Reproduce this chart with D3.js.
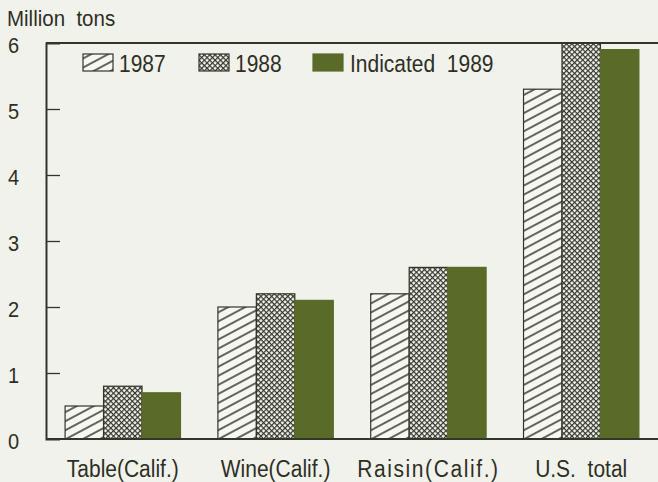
<!DOCTYPE html>
<html>
<head>
<meta charset="utf-8">
<script src="https://cdn.jsdelivr.net/npm/d3@7"></script>
<style>
  html, body { margin: 0; padding: 0; background: #f2f2ec; }
  svg { display: block; }
  text { font-family: "Liberation Sans", Arial, Helvetica, sans-serif; fill: #2e2f24; }
</style>
</head>
<body>
<svg id="chart" width="658" height="482"></svg>
<script>
const categories = ["Table(Calif.)", "Wine(Calif.)", "Raisin(Calif.)", "U.S. total"];
const seriesNames = ["1987", "1988", "Indicated 1989"];
const values1987 = [0.5, 2.0, 2.2, 5.3];
const values1988 = [0.8, 2.2, 2.6, 6.0];
const values1989 = [0.7, 2.1, 2.6, 5.9];
const yTicks = [0, 1, 2, 3, 4, 5, 6];
const yLabel = "Million tons";

const seriesValues = [values1987, values1988, values1989];
const ink = "#33342a";
const olive = "#5a6a28";

const svg = d3.select("#chart");
const plotLeft = 46, plotRight = 658, plotTop = 43, plotBottom = 439;

const x = d3.scaleBand().domain(categories).range([plotLeft, plotRight]).paddingInner(0.245).paddingOuter(0.125);
const xs = d3.scaleBand().domain(d3.range(seriesNames.length)).range([0, x.bandwidth()]);
const y = d3.scaleLinear().domain([0, 6]).range([plotBottom, plotTop]);

// patterns
const defs = svg.append("defs");
const p1 = defs.append("pattern").attr("id", "p1987").attr("patternUnits", "userSpaceOnUse")
  .attr("width", 12).attr("height", 8).attr("patternTransform", "rotate(-28)");
p1.append("rect").attr("width", 12).attr("height", 8).attr("fill", "#f7f7f2");
p1.append("line").attr("x1", 0).attr("x2", 12).attr("y1", 4).attr("y2", 4).attr("stroke", ink).attr("stroke-width", 1.5);

const p2 = defs.append("pattern").attr("id", "p1988").attr("patternUnits", "userSpaceOnUse")
  .attr("width", 3.8).attr("height", 3.8).attr("patternTransform", "rotate(45)");
p2.append("rect").attr("width", 3.8).attr("height", 3.8).attr("fill", "#f7f7f2");
p2.append("line").attr("x1", 0).attr("x2", 3.8).attr("y1", 0.6).attr("y2", 0.6).attr("stroke", ink).attr("stroke-width", 1.2);
p2.append("line").attr("x1", 0.6).attr("x2", 0.6).attr("y1", 0).attr("y2", 3.8).attr("stroke", ink).attr("stroke-width", 1.2);

const fills = ["url(#p1987)", "url(#p1988)", olive];
const strokes = [ink, ink, olive];

// bars
const groups = svg.append("g").selectAll("g").data(categories).join("g")
  .attr("transform", d => `translate(${x(d)},0)`);
groups.selectAll("rect").data((d, i) => seriesValues.map((s, k) => ({ k, v: s[i] }))).join("rect")
  .attr("x", d => xs(d.k))
  .attr("width", xs.bandwidth())
  .attr("y", d => y(d.v))
  .attr("height", d => y(0) - y(d.v))
  .attr("fill", d => fills[d.k])
  .attr("stroke", d => strokes[d.k])
  .attr("stroke-width", 1.2);

// frame lines
svg.append("line").attr("x1", plotLeft).attr("x2", plotRight).attr("y1", y(6)).attr("y2", y(6))
  .attr("stroke", ink).attr("stroke-width", 2);
svg.append("line").attr("x1", plotLeft).attr("x2", plotRight).attr("y1", y(0)).attr("y2", y(0))
  .attr("stroke", ink).attr("stroke-width", 2);

// y axis
const yAxis = d3.axisRight(y).tickValues(yTicks).tickSize(14).tickFormat("");
const ya = svg.append("g").attr("transform", `translate(${plotLeft},0)`).call(yAxis);
ya.select(".domain").attr("stroke", ink).attr("stroke-width", 2);
ya.selectAll(".tick line").attr("stroke", ink).attr("stroke-width", 1.3);
ya.selectAll(".tick").filter(d => d === 0 || d === 6).select("line").remove();

const stretch = 1.12;
svg.append("g").selectAll("text").data(yTicks).join("text")
  .attr("transform", d => `translate(8,${y(d) + 10}) scale(1,${stretch})`)
  .attr("font-size", 20)
  .text(d => d);

svg.append("text").attr("transform", `translate(7,26) scale(1,1.05)`).attr("font-size", 20.5).attr("xml:space", "preserve")
  .text(yLabel.replace(" ", "  "));

// x labels
svg.append("g").selectAll("text").data(categories).join("text")
  .attr("transform", d => `translate(${x(d) + x.bandwidth() / 2},477) scale(1,${stretch})`)
  .attr("text-anchor", "middle")
  .attr("font-size", 21)
  .attr("letter-spacing", d => d.startsWith("Raisin") ? 1.6 : 0)
  .attr("xml:space", "preserve")
  .text(d => d === "U.S. total" ? "U.S.  total" : d);

// legend
const legendX = [83, 199, 313];
const lg = svg.append("g").selectAll("g").data(seriesNames).join("g")
  .attr("transform", (d, i) => `translate(${legendX[i]},54)`);
lg.append("rect").attr("width", 30).attr("height", 17)
  .attr("fill", (d, i) => fills[i]).attr("stroke", (d, i) => strokes[i]).attr("stroke-width", 1.2);
lg.append("text").attr("transform", (d, i) => `translate(${i === 2 ? 37 : 36},18) scale(1,${stretch})`).attr("font-size", 21)
  .attr("xml:space", "preserve")
  .text(d => d.replace(" ", "  "));
</script>
</body>
</html>
